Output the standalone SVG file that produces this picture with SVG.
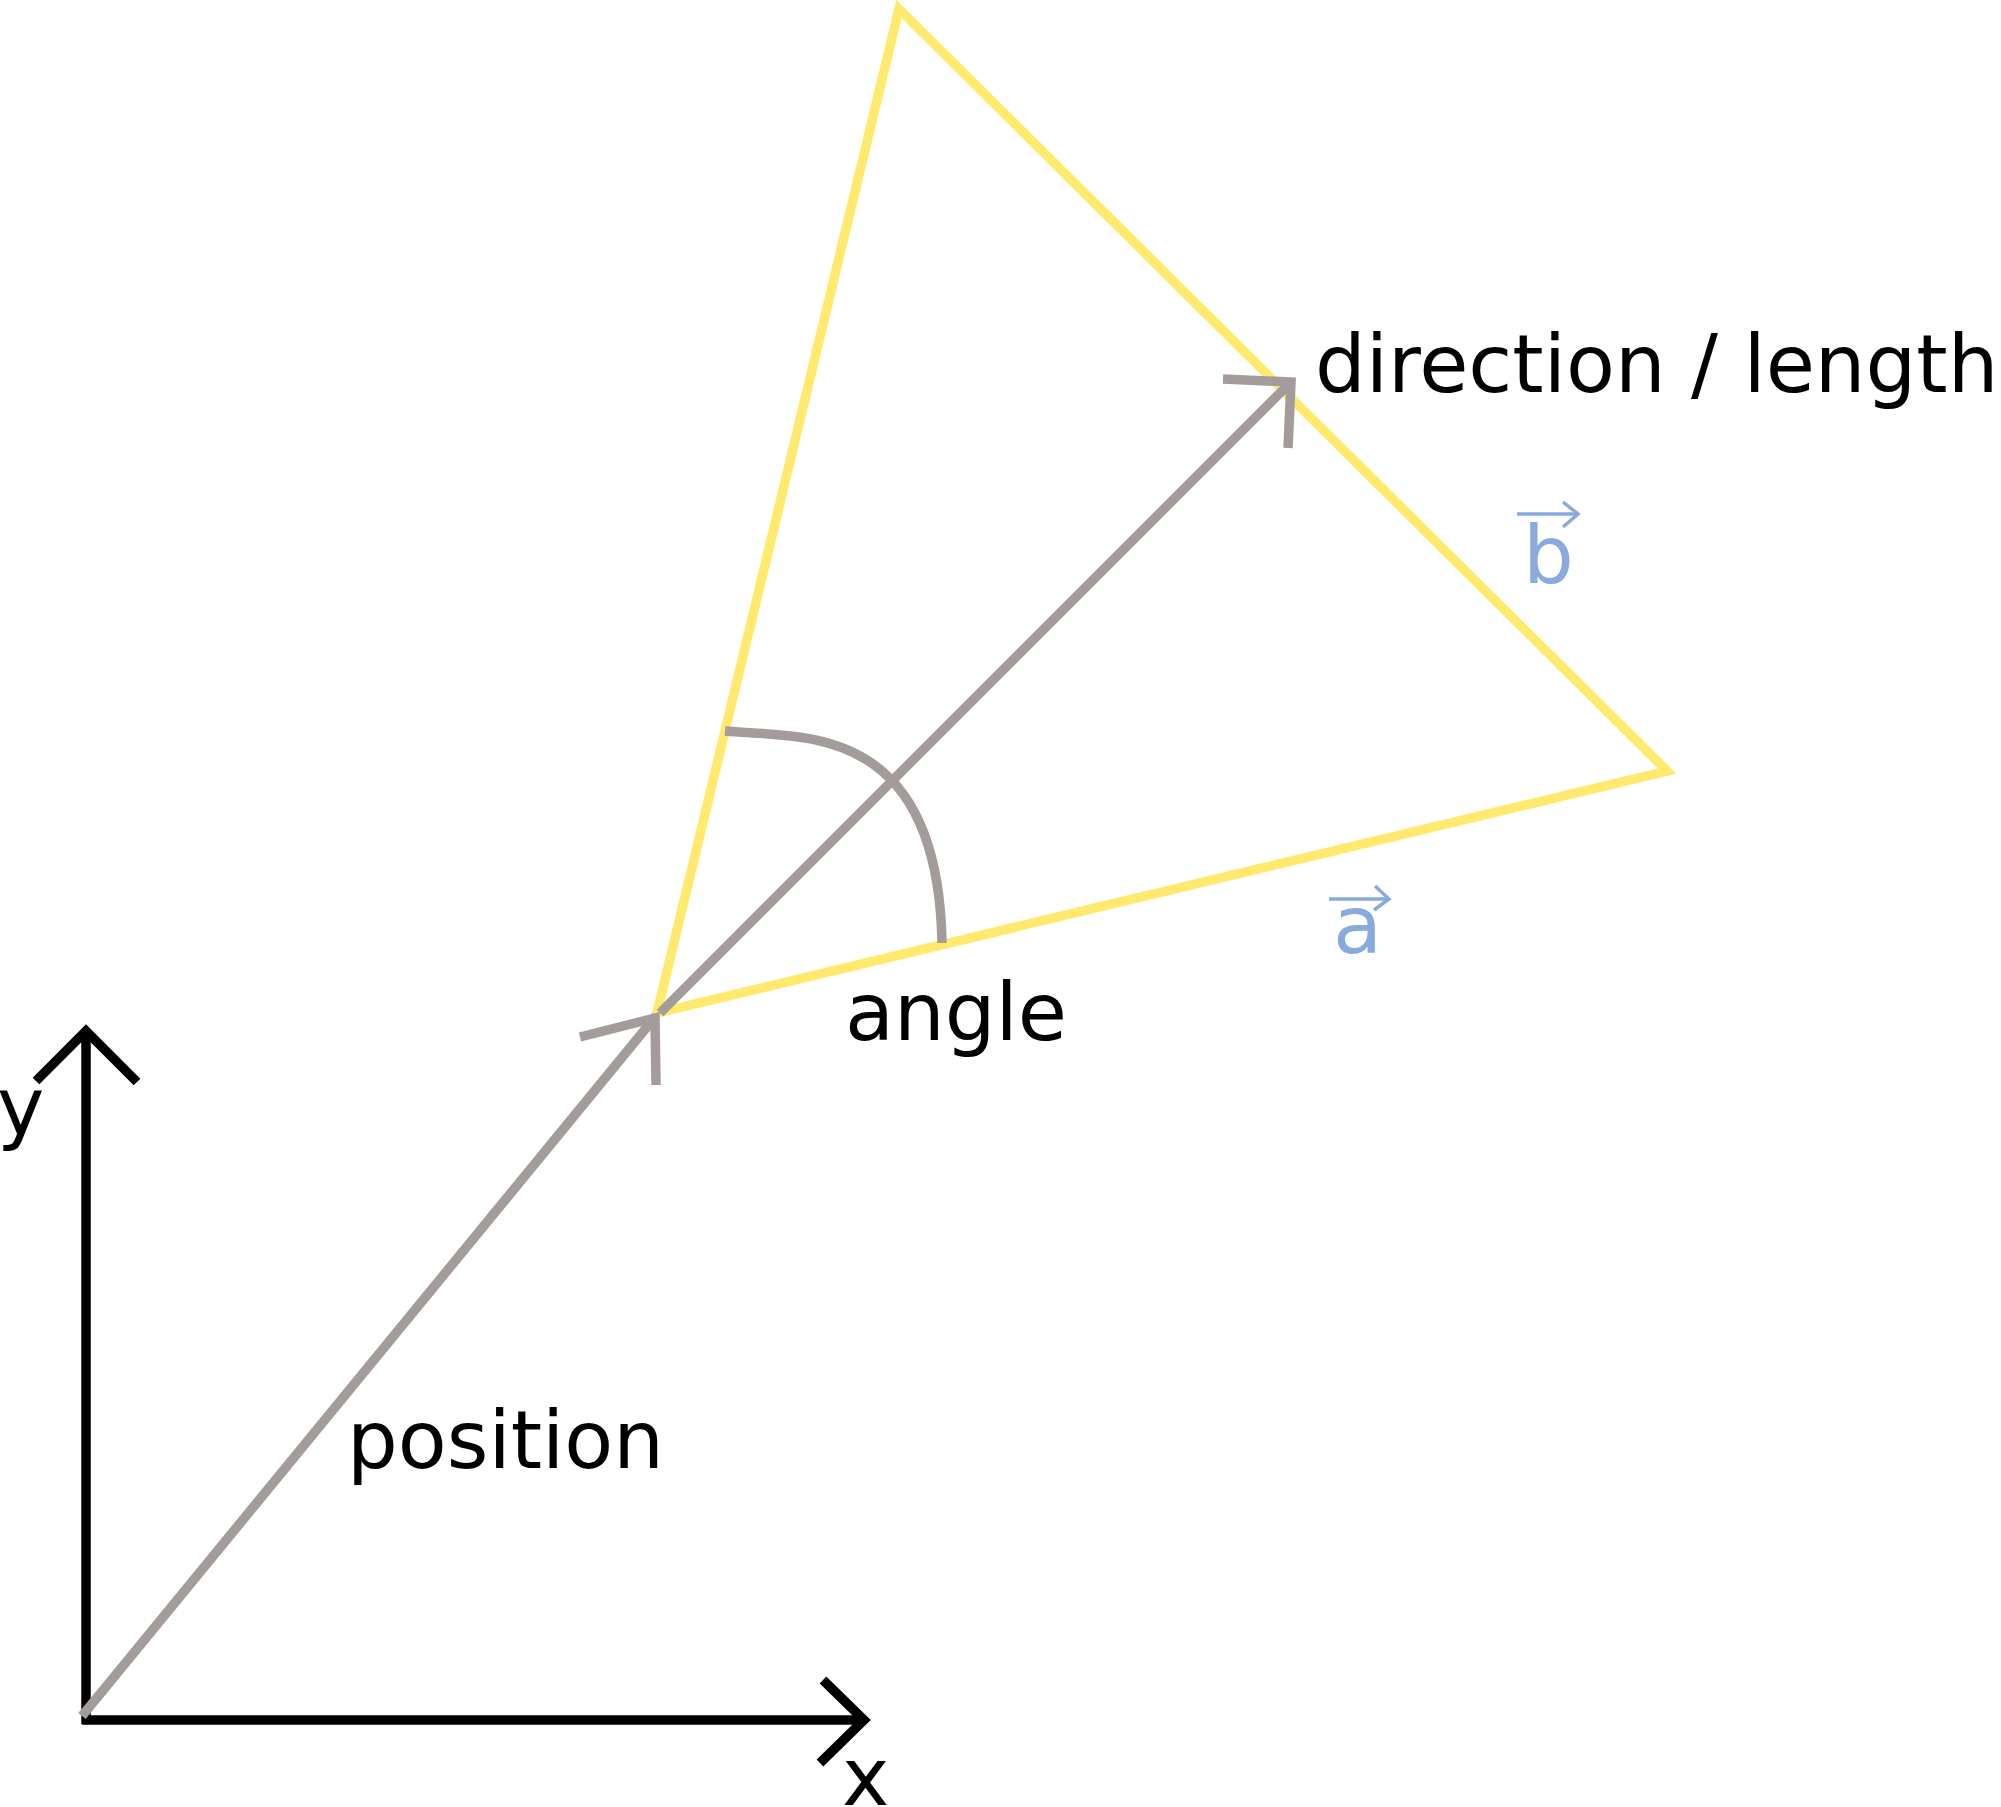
<svg xmlns="http://www.w3.org/2000/svg" width="2001" height="1807" viewBox="0 0 2001 1807">
<style>
.lbl{font-family:"DejaVu Sans",sans-serif;font-size:80px;fill:#000}
.vec{font-family:"DejaVu Sans",sans-serif;font-size:80px;fill:#88aadd}
.vecarrow{fill:none;stroke:#88aadd;stroke-width:3.5}
.axis{fill:none;stroke:#000;stroke-width:9.5}
.gray{fill:none;stroke:#a39c9a;stroke-width:9.5}
.tri{fill:none;stroke:#ffea6e;stroke-width:9.5;stroke-linejoin:miter;stroke-miterlimit:10}
</style>
<rect width="2001" height="1807" fill="#fff"/>
<g id="triangle">
<polygon class="tri" points="899,9 1667,771 657,1013"/>
</g>
<g id="axes">
<polyline class="axis" points="86,1724 86,1032"/>
<polyline class="axis" points="36,1081 86,1031 137,1082"/>
<polyline class="axis" points="82,1720 865,1720"/>
<polyline class="axis" points="823,1680 864,1720 820,1763"/>
</g>
<g id="connectors">
<line class="gray" x1="82" y1="1716" x2="656" y2="1016"/>
<polyline class="gray" points="580,1037 655,1018 656,1085"/>
<line class="gray" x1="660" y1="1013" x2="1290" y2="383"/>
<polyline class="gray" points="1223,379 1291,382 1288,448"/>
<path class="gray" d="M725,731 C800,738 938,720 942,943"/>
</g>
<g id="labels">
<text class="lbl" x="-3" y="1134">y</text>
<text class="lbl" x="842" y="1805">x</text>
<text class="lbl" x="347" y="1468">position</text>
<text class="lbl" x="845" y="1040">angle</text>
<text class="lbl" x="1315" y="392">direction / length</text>
</g>
<g id="vector-b">
<text class="vec" x="1523" y="583">b</text>
<line class="vecarrow" x1="1517" y1="514" x2="1578" y2="514"/>
<polyline class="vecarrow" points="1563,502 1578,514 1563,527"/>
</g>
<g id="vector-a">
<text class="vec" x="1333" y="953">a</text>
<line class="vecarrow" x1="1329" y1="899" x2="1389" y2="899"/>
<polyline class="vecarrow" points="1375,886 1389,899 1374,910"/>
</g>
</svg>
